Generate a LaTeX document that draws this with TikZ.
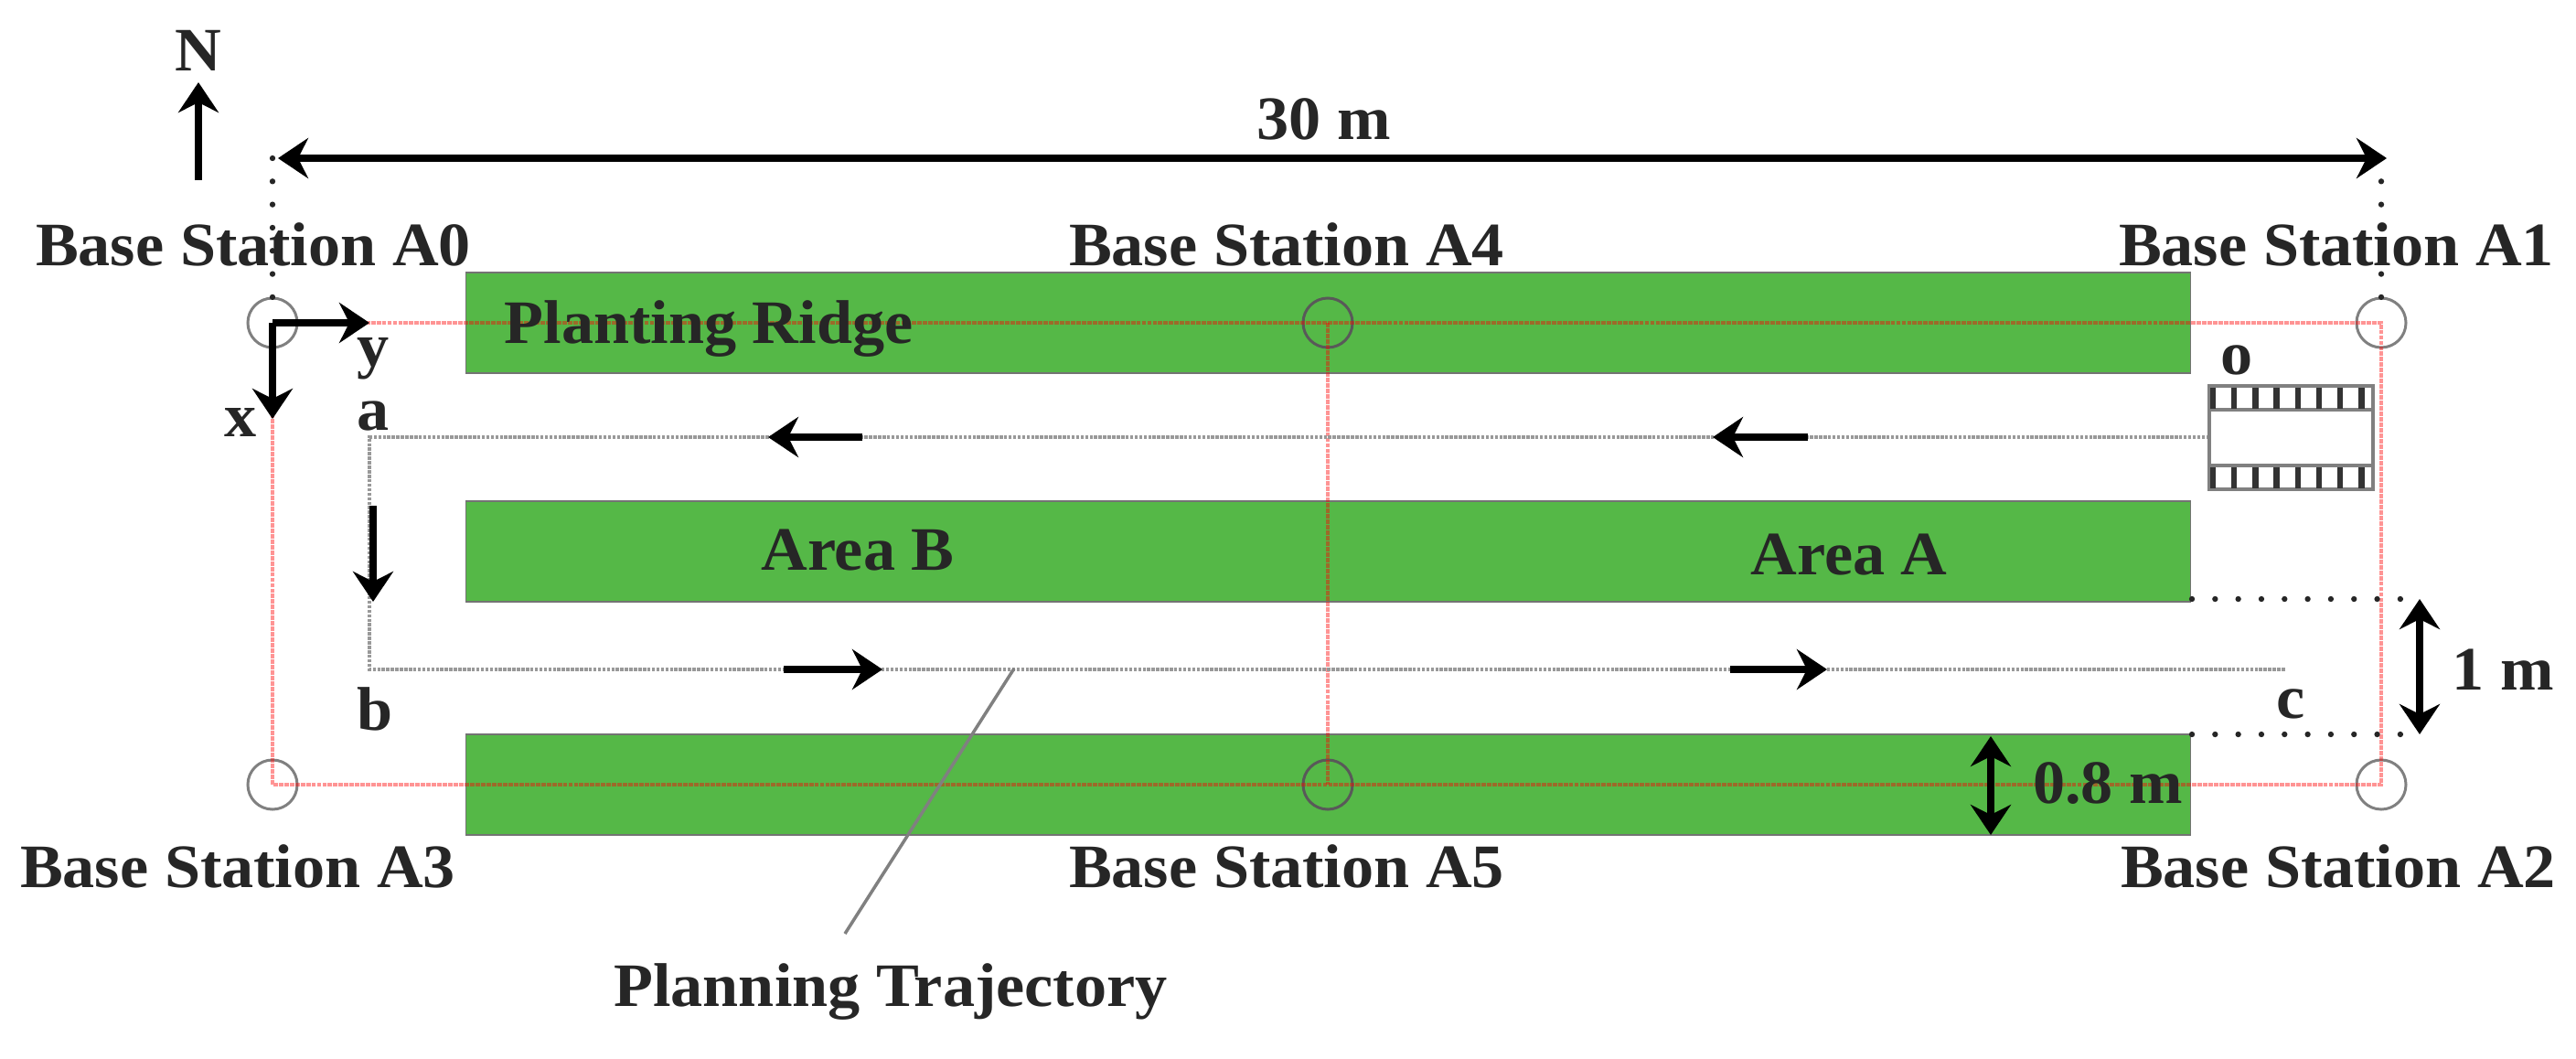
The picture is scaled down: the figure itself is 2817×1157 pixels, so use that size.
\documentclass[tikz,border=0pt]{standalone}
\usepackage{fontspec}
\setmainfont[FakeStretch=1.04]{Liberation Serif}
\usetikzlibrary{arrows.meta}
\definecolor{txt}{HTML}{262626}
\definecolor{ridgegreen}{HTML}{55B847}
\tikzset{
  lab/.style={font=\bfseries\fontsize{19.2}{22}\selectfont,text=txt,inner sep=0pt},
  ridge/.style={draw=black!55,line width=0.5pt,fill=ridgegreen,minimum width=18.85cm,minimum height=1.1cm,inner sep=0pt},
  station/.style={circle,draw=black!50,line width=0.85pt,minimum size=0.54cm,inner sep=0pt},
  midstation/.style={station,draw=black!65},
  redline/.style={draw=red,opacity=0.42,line width=1.3pt,dash pattern=on 1.4pt off 0.3pt},
  traj/.style={draw=black!40,line width=1.3pt,dash pattern=on 1pt off 0.4pt},
  dots/.style={draw=black!85,line width=1.8pt,line cap=round,dash pattern=on 0pt off 7.2pt},
  bigarrow/.style={draw=black,line width=2.3pt,-{Stealth[length=0.33cm,width=0.44cm,inset=0.11cm]}},
  bothways/.style={draw=black,line width=2.3pt,{Stealth[length=0.33cm,width=0.44cm,inset=0.11cm]}-{Stealth[length=0.33cm,width=0.44cm,inset=0.11cm]}},
  leader/.style={draw=black!50,line width=1pt},
  tractorpart/.style={draw=black!50,line width=1pt,fill=white,inner sep=0pt},
  rung/.style={draw=black!80,line width=1.8pt}
}
\begin{document}
\begin{tikzpicture}[x=0.01cm,y=-0.01cm]
\useasboundingbox (0,0) rectangle (2817,1157);

% ridges
\node[ridge] (r1) at (1452.5,353) {};
\node[ridge] (r2) at (1452.5,603) {};
\node[ridge] (r3) at (1452.5,858) {};

% station positions
\node[station] (A0) at (298,353) {};
\node[station] (A1) at (2604,353) {};
\node[station] (A2) at (2604,858) {};
\node[station] (A3) at (298,858) {};
\node[midstation] (A4) at (1452,353) {};
\node[midstation] (A5) at (1452,858) {};

% red base-station lines
\draw[redline] (A0.center) -- (A1.center) -- (A2.center) -- (A3.center) -- cycle;
\draw[redline] (A4.center) -- (A5.center);

% trajectory
\coordinate (a) at (404,478);
\coordinate (b) at (404,732);
\coordinate (c) at (2500,732);
\coordinate (o) at (2416,478);
\draw[traj] (o) -- (a) -- (b) -- (c);

% tractor
\node[tractorpart,minimum width=1.79cm,minimum height=1.13cm] (body) at (2505.5,478.5) {};
\node[tractorpart,minimum width=1.79cm,minimum height=0.26cm] (tr1) at (2505.5,435) {};
\node[tractorpart,minimum width=1.79cm,minimum height=0.26cm] (tr2) at (2505.5,522) {};
\foreach \i in {0,...,7}{
  \coordinate (t\i a) at ({2420+23.2*\i},424);
  \coordinate (t\i b) at ({2420+23.2*\i},447);
  \coordinate (t\i c) at ({2420+23.2*\i},511);
  \coordinate (t\i d) at ({2420+23.2*\i},534);
  \draw[rung] (t\i a) -- (t\i b);
  \draw[rung] (t\i c) -- (t\i d);
}

% dotted guide lines
\coordinate (d0t) at (298,173);
\coordinate (d0b) at (298,326);
\coordinate (d1t) at (2604,173);
\coordinate (d1b) at (2604,326);
\coordinate (m1a) at (2397,655);
\coordinate (m1b) at (2626,655);
\coordinate (m2a) at (2397,803);
\coordinate (m2b) at (2626,803);
\draw[dots] (d0t) -- (d0b);
\draw[dots] (d1t) -- (d1b);
\draw[dots] (m1a) -- (m1b);
\draw[dots] (m2a) -- (m2b);

% dimension arrows
\coordinate (w0) at (304,173);
\coordinate (w1) at (2610,173);
\draw[bothways] (w0) -- (w1);
\coordinate (h0) at (2646,655);
\coordinate (h1) at (2646,803);
\draw[bothways] (h0) -- (h1);
\coordinate (g0) at (2177,805);
\coordinate (g1) at (2177,913);
\draw[bothways] (g0) -- (g1);

% north arrow and axes
\coordinate (n0) at (217,197);
\coordinate (n1) at (217,90);
\draw[bigarrow] (n0) -- (n1);
\coordinate (yt) at (404,353);
\coordinate (xt) at (298,458);
\draw[bigarrow] (A0.center) -- (yt);
\draw[bigarrow] (A0.center) -- (xt);

% travel arrows
\coordinate (p1a) at (943,478); \coordinate (p1b) at (840,478);
\coordinate (p2a) at (1977,478); \coordinate (p2b) at (1873,478);
\coordinate (p3a) at (857,732); \coordinate (p3b) at (965,732);
\coordinate (p4a) at (1892,732); \coordinate (p4b) at (1998,732);
\coordinate (p5a) at (408,553); \coordinate (p5b) at (408,658);
\draw[bigarrow] (p1a) -- (p1b);
\draw[bigarrow] (p2a) -- (p2b);
\draw[bigarrow] (p3a) -- (p3b);
\draw[bigarrow] (p4a) -- (p4b);
\draw[bigarrow] (p5a) -- (p5b);

% labels
\node[lab] (ln) at (217,55) {N};
\node[lab] (l30) at (1448,130) {30 m};
\node[lab] (lA0) at (277,267) {Base Station A0};
\node[lab] (lA4) at (1407,267) {Base Station A4};
\node[lab] (lA1) at (2555,267) {Base Station A1};
\node[lab] (lA3) at (260,947) {Base Station A3};
\node[lab] (lA5) at (1407,947) {Base Station A5};
\node[lab] (lA2) at (2557,947) {Base Station A2};
\node[lab] (lpr) at (775,360) {Planting Ridge};
\node[lab] (lb) at (938,602) {Area B};
\node[lab] (lat) at (2022,607) {Area A};
\node[lab] (ly) at (408,392) {y};
\node[lab] (lx) at (263,462) {x};
\node[lab] (la) at (408,455) {a};
\node[lab] (lo) at (2446,394) {o};
\node[lab] (lbb) at (410,775) {b};
\node[lab] (lc) at (2505,770) {c};
\node[lab] (l1m) at (2737,732) {1 m};
\node[lab] (l08) at (2305,857) {0.8 m};
\node[lab] (lpt) at (974,1085) {Planning Trajectory};

% leader
\coordinate (lt1) at (1109,731);
\coordinate (lt2) at (924,1021);
\draw[leader] (lt1) -- (lt2);
\end{tikzpicture}
\end{document}
